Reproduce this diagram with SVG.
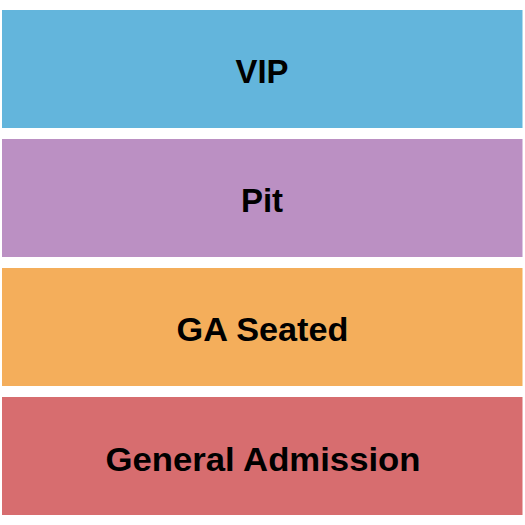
<svg xmlns="http://www.w3.org/2000/svg" width="525" height="525" viewBox="0 0 525 525">
<style>
.lbl{font-family:"Liberation Sans",Arial,sans-serif;font-weight:bold;font-size:33px;fill:#000;text-anchor:middle}
</style>
<rect width="525" height="525" fill="#fff"/>
<g id="vip"><rect x="2" y="10" width="520.5" height="118" fill="#63b5dc"/><text class="lbl" x="262" y="83" textLength="53" lengthAdjust="spacingAndGlyphs">VIP</text></g>
<g id="pit"><rect x="2" y="139" width="520.5" height="118" fill="#bb90c3"/><text class="lbl" x="262" y="212">Pit</text></g>
<g id="ga-seated"><rect x="2" y="268" width="520.5" height="118" fill="#f4ae5b"/><text class="lbl" x="262.5" y="341" textLength="172" lengthAdjust="spacingAndGlyphs">GA Seated</text></g>
<g id="general-admission"><rect x="2" y="397" width="520.5" height="118" fill="#d76d6f"/><text class="lbl" x="263" y="471" textLength="315" lengthAdjust="spacingAndGlyphs">General Admission</text></g>
<g id="connectors"/>
</svg>
